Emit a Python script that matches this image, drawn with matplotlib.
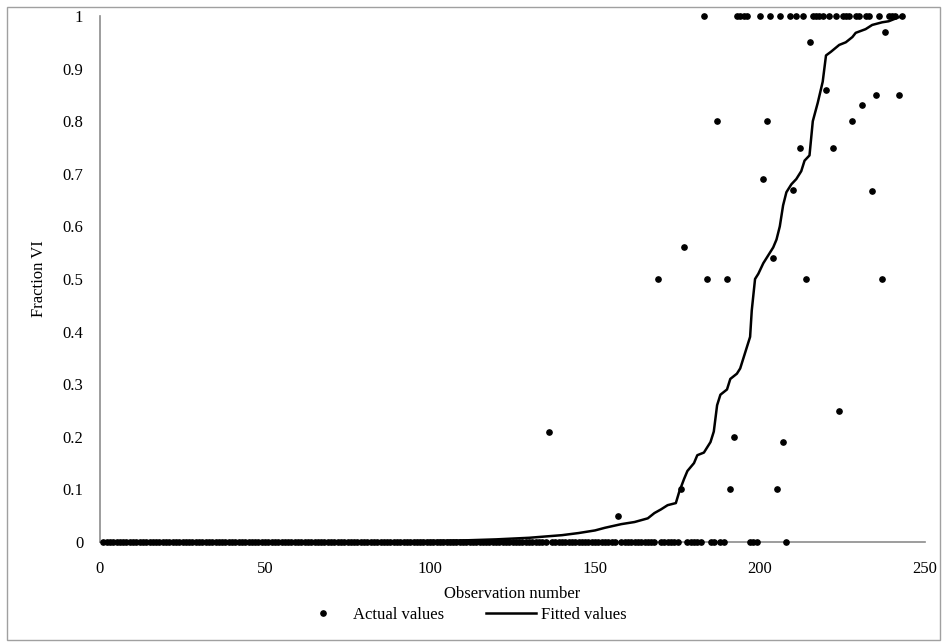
import numpy as np
import matplotlib
matplotlib.use("Agg")
from matplotlib import pyplot as plt
from matplotlib.patches import Rectangle

# Observed fractions that are neither 0 nor 1
partial_obs = [136, 157, 169, 176, 177, 184, 187, 190, 191, 192, 201, 202, 204, 205, 207,
               210, 212, 214, 215, 220, 222, 224, 228, 231, 234, 235, 237, 238, 242]
partial_val = [0.21, 0.05, 0.5, 0.1, 0.56, 0.5, 0.8, 0.5, 0.1, 0.2, 0.69, 0.8, 0.54, 0.1, 0.19,
               0.67, 0.75, 0.5, 0.95, 0.86, 0.75, 0.25, 0.8, 0.83, 0.667, 0.85, 0.5, 0.97, 0.85]

# Observations with fraction 1
ones_obs = [183, 193, 194, 195, 196, 200, 203, 206, 209, 211, 213, 216, 217, 218, 219, 221,
            223, 225, 226, 227, 229, 230, 232, 233, 236, 239, 240, 241, 243]

# Observations with fraction 0
zero_obs = (list(range(1, 136)) + list(range(137, 157)) + list(range(158, 169))
            + [170, 171, 172, 173, 174, 175, 178, 179, 180, 181, 182,
               185, 186, 188, 189, 197, 198, 199, 208])

# Fitted curve
fit_obs = [1, 60, 80, 100, 110, 120, 130, 136, 140, 145, 150, 153, 158, 162, 166, 168, 170,
           172, 174.5, 175.5, 177, 178, 180, 181, 183, 185, 186, 187, 188, 190, 191, 193, 194,
           196, 197, 197.5, 198.5, 199.5, 201, 203, 204, 205, 206, 207, 208, 209.5, 211, 212.5,
           213.5, 215, 216, 217.5, 219, 220, 221.5, 224, 226, 228, 229, 232, 234, 237, 239,
           241, 243]
fit_val = [0.0, 0.0, 0.001, 0.002, 0.003, 0.005, 0.008, 0.011, 0.013, 0.017, 0.022, 0.027,
           0.034, 0.038, 0.045, 0.055, 0.062, 0.07, 0.074, 0.095, 0.12, 0.135, 0.15, 0.165,
           0.17, 0.19, 0.21, 0.26, 0.28, 0.29, 0.31, 0.32, 0.33, 0.37, 0.39, 0.44, 0.5, 0.51,
           0.53, 0.55, 0.56, 0.575, 0.6, 0.64, 0.665, 0.68, 0.69, 0.705, 0.725, 0.735, 0.8,
           0.835, 0.875, 0.925, 0.932, 0.945, 0.95, 0.96, 0.968, 0.975, 0.983, 0.988, 0.99,
           0.995, 1.0]

x_ticks = [0, 50, 100, 150, 200, 250]
y_ticks = [0, 0.1, 0.2, 0.3, 0.4, 0.5, 0.6, 0.7, 0.8, 0.9, 1]
y_labels = ["0", "0.1", "0.2", "0.3", "0.4", "0.5", "0.6", "0.7", "0.8", "0.9", "1"]

plt.rcParams["font.family"] = ["Liberation Serif", "DejaVu Serif"]
plt.rcParams["font.size"] = 12

W, H = 943, 643
fig = plt.figure(figsize=(W / 100, H / 100), dpi=100)
ax = fig.add_axes([100 / W, 1 - 542 / H, 825 / W, 526 / H])

act_x = zero_obs + ones_obs + partial_obs
act_y = [0.0] * len(zero_obs) + [1.0] * len(ones_obs) + partial_val
ax.plot(act_x, act_y, marker="o", markersize=3.8, linestyle="None", color="black",
        label="Actual values", clip_on=False, zorder=3)
ax.plot(fit_obs, fit_val, color="black", linewidth=1.8, label="Fitted values",
        clip_on=False, zorder=4)

ax.set_xlim(0, 250)
ax.set_ylim(0, 1)
ax.set_xticks(x_ticks)
ax.set_yticks(y_ticks)
ax.set_yticklabels(y_labels)
ax.tick_params(axis="x", length=0, pad=14, labelsize=12)
ax.tick_params(axis="y", length=0, pad=12, labelsize=12)
for s in ["top", "right"]:
    ax.spines[s].set_visible(False)
ax.spines["left"].set_color("#8c8c8c")
ax.spines["bottom"].set_color("#8c8c8c")
ax.spines["left"].set_linewidth(1.2)
ax.spines["bottom"].set_linewidth(1.2)

ax.set_xlabel("Observation number", fontsize=12, labelpad=6)
ax.set_ylabel("Fraction VI", fontsize=12, labelpad=11)

fig.legend(loc="lower center", bbox_to_anchor=(0.49, 0.008), ncol=2, frameon=False,
           fontsize=12, handlelength=3, columnspacing=2.5, handletextpad=0.3)

# chart area border
fig.patches.append(Rectangle((7 / W, 3 / H), 933 / W, 633 / H, transform=fig.transFigure,
                             fill=False, edgecolor="#a0a0a0", linewidth=1.0))

fig.savefig("out.png", dpi=100)
